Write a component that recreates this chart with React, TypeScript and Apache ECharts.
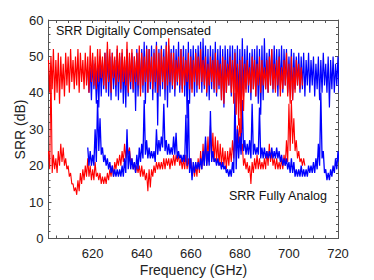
import React, { useEffect, useRef } from "react";
import * as echarts from "echarts";

// Frequency grid (GHz): start of each trace, 1 GHz steps; hi/lo = noise envelope read per GHz
const redUpperStart = 602;
const redUpperHi = [
  49,
  50, 52, 49, 51, 50, 48, 51, 50, 52, 49,
  50, 52, 51, 49, 51, 50, 53, 51, 50, 52,
  52, 50, 51, 54, 52, 51, 50, 53, 51, 52,
  50, 54, 51, 52, 50, 51, 53, 51, 50, 52,
  52, 50, 51, 53, 51, 52, 50, 53, 55, 51,
  51, 49, 50, 52, 50, 49, 51, 50, 49, 51,
  50, 52, 49, 50, 48, 50, 49, 51, 49, 48,
  50, 49, 48, 50, 49, 51, 48, 49, 50, 48,
  49, 47, 50, 49, 48, 50, 49, 47, 49, 50,
  52, 48, 49, 50, 47, 49, 51, 48, 50, 47,
  49, 48, 47,
];
const redUpperLo = [
  40,
  41, 38, 40, 37, 41, 39, 42, 40, 43, 41,
  42, 40, 43, 41, 42, 40, 43, 42, 41, 43,
  44, 42, 41, 43, 40, 44, 42, 43, 41, 43,
  42, 40, 43, 41, 43, 42, 39, 42, 43, 40,
  43, 41, 43, 40, 42, 43, 41, 42, 43, 42,
  41, 43, 42, 40, 42, 43, 41, 40, 43, 42,
  41, 43, 42, 40, 42, 43, 41, 40, 42, 38,
  37, 40, 42, 40, 37, 34, 31, 29, 35, 40,
  42, 40, 41, 39, 42, 40, 42, 41, 40, 42,
  41, 40, 42, 39, 41, 42, 39, 37, 38, 40,
  42, 41, 42,
];

const blueUpperStart = 618;
const blueUpperHi = [
  46, 47, 49, 48, 47, 50, 49, 51, 52, 50,
  51, 49, 52, 50, 51, 49, 52, 50, 51, 50,
  52, 51, 52, 54, 53, 52, 53, 52, 54, 52,
  53, 52, 54, 53, 52, 53, 52, 54, 52, 53,
  52, 54, 52, 53, 52, 53, 54, 55, 53, 52,
  53, 52, 54, 52, 53, 52, 53, 52, 53, 53,
  52, 53, 52, 55, 52, 53, 51, 52, 52, 53,
  52, 53, 55, 51, 52, 52, 53, 52, 52, 53,
  52, 52, 50, 52, 51, 50, 51, 50, 51, 49,
  51, 49, 50, 48, 50, 49, 51, 48, 50, 49,
  50, 48, 50,
];
const blueUpperLo = [
  40, 38, 41, 37, 36, 39, 41, 40, 39, 38,
  41, 39, 38, 40, 37, 36, 39, 41, 40, 35,
  39, 41, 40, 37, 40, 41, 38, 40, 31, 39,
  41, 38, 36, 40, 41, 39, 42, 40, 41, 39,
  33, 37, 41, 39, 40, 42, 40, 41, 39, 38,
  41, 40, 39, 41, 38, 36, 40, 42, 39, 40,
  41, 37, 35, 39, 41, 40, 38, 41, 39, 37,
  34, 38, 41, 40, 42, 40, 41, 39, 41, 40,
  42, 40, 41, 38, 41, 42, 40, 41, 39, 42,
  40, 42, 39, 41, 38, 40, 42, 40, 36, 41,
  40, 42, 40,
];

const redLowerStart = 602;
const redLowerHi = [
  24,
  47, 23, 22, 24, 26, 25, 22, 20, 18, 15,
  14, 16, 18, 19, 20, 22, 20, 19, 21, 18,
  18, 17, 17, 18, 19, 20, 21, 22, 23, 24,
  26, 26, 25, 22, 21, 20, 20, 20, 19, 18,
  19, 19, 20, 21, 21, 21, 22, 22, 22, 22,
  23, 23, 23, 22, 22, 23, 22, 22, 20, 20,
  22, 24, 26, 27, 28, 31, 29, 28, 27, 26,
  25, 24, 24, 25, 27, 29, 31, 33, 26, 22,
  21, 20, 21, 22, 23, 22, 21, 22, 24, 26,
  24, 22, 22, 21, 22, 23, 27, 37, 38, 33,
  27, 24, 22, 22,
];
const redLowerLo = [
  19,
  18, 19, 18, 20, 21, 20, 19, 17, 15, 13,
  12, 13, 15, 16, 17, 17, 16, 16, 17, 16,
  15, 15, 15, 16, 17, 17, 19, 20, 20, 21,
  22, 23, 21, 19, 18, 18, 17, 17, 16, 13,
  14, 17, 18, 19, 19, 19, 19, 20, 19, 20,
  20, 21, 20, 19, 19, 19, 19, 18, 17, 17,
  18, 19, 20, 20, 21, 22, 21, 21, 20, 20,
  20, 19, 20, 21, 22, 24, 26, 24, 20, 19,
  18, 15, 18, 19, 19, 19, 19, 19, 20, 21,
  20, 19, 19, 19, 19, 20, 21, 24, 26, 24,
  22, 21, 20, 20,
];

const blueLowerStart = 618;
const blueLowerHi = [
  25, 24, 23, 30, 38, 33, 25, 23, 22, 21,
  20, 19, 19, 19, 20, 22, 30, 24, 22, 21,
  23, 25, 26, 38, 27, 25, 24, 24, 30, 27,
  28, 37, 27, 26, 25, 28, 29, 24, 23, 23,
  34, 38, 22, 21, 21, 21, 22, 24, 28, 24,
  35, 24, 22, 22, 21, 21, 20, 19, 19, 21,
  40, 30, 28, 38, 27, 26, 27, 37, 26, 25,
  36, 25, 25, 24, 24, 25, 24, 25, 24, 23,
  22, 22, 21, 22, 21, 19, 19, 20, 19, 19,
  20, 20, 21, 22, 26, 40, 24, 19, 18, 19,
  20, 22, 24,
];
const blueLowerLo = [
  20, 20, 20, 21, 24, 23, 21, 20, 19, 18,
  17, 17, 17, 17, 17, 18, 19, 19, 19, 18,
  19, 21, 22, 23, 22, 22, 22, 21, 23, 24,
  25, 24, 23, 23, 23, 23, 22, 22, 21, 21,
  20, 18, 16, 18, 19, 19, 19, 20, 20, 20,
  21, 21, 20, 20, 19, 19, 18, 17, 17, 18,
  19, 22, 23, 24, 23, 23, 22, 23, 23, 23,
  22, 22, 22, 22, 22, 22, 22, 22, 21, 20,
  20, 19, 18, 18, 17, 17, 17, 17, 17, 17,
  18, 18, 18, 19, 20, 22, 18, 16, 16, 17,
  18, 19, 21,
];

const xTickValues = [
  605, 610, 615, 620, 625, 630, 635, 640, 645, 650, 655, 660,
  665, 670, 675, 680, 685, 690, 695, 700, 705, 710, 715, 720,
];
const xLabelValues = [620, 640, 660, 680, 700, 720];

const FONT = '"Liberation Sans", Arial, Helvetica, sans-serif';

function trace(start: number, hi: number[], lo: number[]) {
  const pts: number[][] = [];
  hi.forEach((h, i) => {
    pts.push([start + i, h]);
    pts.push([start + i + 0.5, lo[i]]);
  });
  return pts;
}

export default function App() {
  const ref = useRef<HTMLDivElement>(null);
  useEffect(() => {
    if (!ref.current) return;
    const chart = echarts.init(ref.current, undefined, { renderer: "svg" });
    const axisColor = "#555";
    const xCommon = {
      type: "value" as const,
      min: 602,
      max: 720,
      axisLine: { show: true, onZero: false, lineStyle: { color: axisColor, width: 1 } },
      axisTick: {
        show: true,
        inside: true,
        length: 3,
        customValues: xTickValues,
        lineStyle: { color: axisColor },
      },
      splitLine: { show: false },
    };
    const yCommon = {
      type: "value" as const,
      min: 0,
      max: 60,
      interval: 10,
      axisLine: { show: true, lineStyle: { color: axisColor, width: 1 } },
      axisTick: { show: true, inside: true, length: 3, lineStyle: { color: axisColor } },
      minorTick: { show: true, splitNumber: 5, length: 2, lineStyle: { color: axisColor } },
      splitLine: { show: false },
    };
    const line = (name: string, data: number[][], color: string, z: number, width: number) => ({
      name,
      type: "line",
      data,
      showSymbol: false,
      symbol: "none",
      z,
      silent: true,
      lineStyle: { color, width },
    });
    chart.setOption({
      animation: false,
      grid: { left: 48.5, right: 36, top: 20, bottom: 41.5, containLabel: false },
      xAxis: [
        {
          ...xCommon,
          position: "bottom",
          axisLabel: {
            customValues: xLabelValues,
            margin: 8,
            fontSize: 13,
            color: "#222",
            fontFamily: FONT,
          },
        },
        { ...xCommon, position: "top", axisLabel: { show: false } },
      ],
      yAxis: [
        {
          ...yCommon,
          position: "left",
          axisLabel: { margin: 5, fontSize: 13, color: "#222", fontFamily: FONT },
        },
        { ...yCommon, position: "right", axisLabel: { show: false } },
      ],
      series: [
        line("Red analog", trace(redLowerStart, redLowerHi, redLowerLo), "#ff0000", 2, 1.1),
        line("Blue analog", trace(blueLowerStart, blueLowerHi, blueLowerLo), "#0000ff", 3, 1.3),
        line("Blue compensated", trace(blueUpperStart, blueUpperHi, blueUpperLo), "#0000ff", 4, 1.2),
        line("Red compensated", trace(redUpperStart, redUpperHi, redUpperLo), "#ff0000", 5, 1.2),
      ],
      graphic: [
        {
          type: "text",
          x: 56,
          y: 31.3,
          z: 10,
          style: {
            text: "SRR Digitally Compensated",
            font: `12.5px ${FONT}`,
            fill: "#111",
            verticalAlign: "middle",
          },
        },
        {
          type: "text",
          x: 229,
          y: 196.3,
          z: 10,
          style: {
            text: "SRR Fully Analog",
            font: `12.5px ${FONT}`,
            fill: "#111",
            verticalAlign: "middle",
          },
        },
        {
          type: "text",
          x: 193.5,
          y: 270.4,
          style: {
            text: "Frequency (GHz)",
            font: `14px ${FONT}`,
            fill: "#222",
            align: "center",
            verticalAlign: "middle",
          },
        },
        {
          type: "text",
          x: 19.5,
          y: 129.5,
          rotation: Math.PI / 2,
          style: {
            text: "SRR (dB)",
            font: `14px ${FONT}`,
            fill: "#222",
            align: "center",
            verticalAlign: "middle",
          },
        },
      ],
    });
    return () => chart.dispose();
  }, []);
  return (
    <div
      ref={ref}
      style={{ position: "absolute", left: 0, top: 0, width: 374, height: 280, background: "#fff" }}
    />
  );
}
